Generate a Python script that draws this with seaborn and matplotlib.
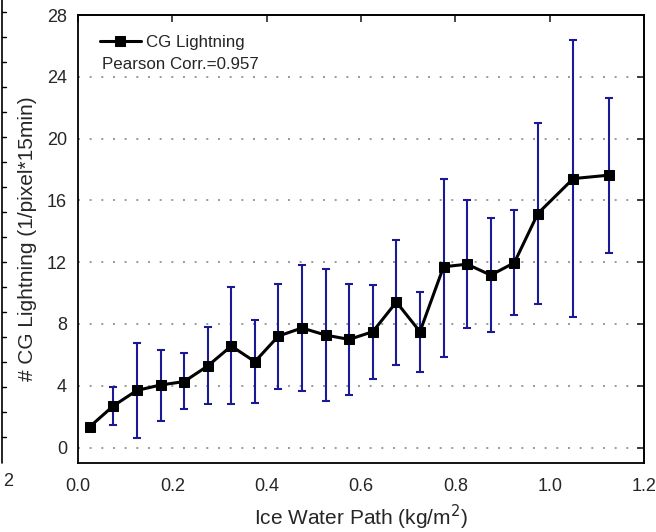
import numpy as np
import pandas as pd
import seaborn as sns
import matplotlib.pyplot as plt

iwp = [0.025, 0.075, 0.125, 0.175, 0.225, 0.275, 0.325, 0.375, 0.425, 0.475, 0.525,
       0.575, 0.625, 0.675, 0.725, 0.775, 0.825, 0.875, 0.925, 0.975, 1.05, 1.125]
cg = [1.35, 2.7, 3.7, 4.05, 4.27, 5.28, 6.57, 5.56, 7.22, 7.74, 7.28,
      7.0, 7.5, 9.42, 7.5, 11.7, 11.87, 11.16, 11.96, 15.15, 17.41, 17.63]
err_hi = [1.55, 3.94, 6.75, 6.32, 6.1, 7.78, 10.37, 8.23, 10.56, 11.79, 11.53,
          10.58, 10.52, 13.42, 10.04, 17.38, 16.0, 14.83, 15.35, 21.0, 26.35, 22.65]
err_lo = [1.1, 1.49, 0.65, 1.75, 2.5, 2.8, 2.8, 2.89, 3.79, 3.64, 3.0,
          3.43, 4.46, 5.37, 4.89, 5.88, 7.76, 7.46, 8.56, 9.27, 8.47, 12.6]

df = pd.DataFrame({"iwp": iwp, "cg": cg})

sns.set_style("white")
plt.rcParams['font.family'] = ['Liberation Sans', 'DejaVu Sans']

fig = plt.figure(figsize=(6.56, 5.32), dpi=100)
ax = fig.add_axes([78/656, 1-463/532, (644-78)/656, (463-15)/532])

# dotted grid
for yv in range(0, 28, 4):
    ax.axhline(yv, color="#999999", lw=1.4, ls=(0, (1, 5)), zorder=0)

lo = np.array(cg) - np.array(err_lo)
hi = np.array(err_hi) - np.array(cg)
ax.errorbar(iwp, cg, yerr=[lo, hi], fmt="none", ecolor="#1a1a96",
            elinewidth=1.5, capsize=3.2, capthick=1.5, zorder=2)
sns.lineplot(data=df, x="iwp", y="cg", ax=ax, color="black", lw=2.2,
             marker="s", markersize=7.3, markeredgecolor="black",
             label="CG Lightning", zorder=3)

ax.set_xlim(0, 1.2)
ax.set_ylim(-1, 28)
ax.set_xticks(np.arange(0, 1.21, 0.2))
ax.set_xticklabels([f"{v:.1f}" for v in np.arange(0, 1.21, 0.2)])
ax.set_yticks(range(0, 29, 4))
ax.tick_params(axis="both", labelsize=13, length=5, width=1.2, color="black", direction="out")
ax.tick_params(axis="x", pad=6)
ax.tick_params(axis="y", pad=3)
axt = ax.secondary_xaxis("top")
axt.set_xticks(np.arange(0, 1.21, 0.2))
axt.tick_params(direction="in", length=5, width=1.2, labeltop=False)
axr = ax.secondary_yaxis("right")
axr.set_yticks(range(0, 29, 4))
axr.tick_params(direction="in", length=5, width=1.2, labelright=False)
for s in ax.spines.values():
    s.set_linewidth(1.3)
    s.set_color("black")
for a in (axt, axr):
    for s in a.spines.values():
        s.set_linewidth(1.3)

ax.set_xlabel("Ice Water Path (kg/m$^2$)", fontsize=15)
ax.xaxis.set_label_coords(0.5, -0.088)
ax.set_ylabel("# CG Lightning (1/pixel*15min)", fontsize=15, labelpad=7)

leg = ax.legend(loc="upper left", frameon=False, fontsize=12.2, handlelength=2.4,
                handletextpad=0.3, borderpad=0, borderaxespad=0,
                bbox_to_anchor=(0.039, 0.956))
ax.text(0.042, 0.89, "Pearson Corr.=0.957", transform=ax.transAxes, fontsize=12.2,
        va="center", ha="left")

# sliver of the neighbouring panel at the left edge
fig.add_artist(plt.Line2D([2/656, 2/656], [1-463/532, 1.0], color="black", lw=1.2))
for yp in np.linspace(12, 437, 18):
    fig.add_artist(plt.Line2D([2/656, 6/656], [1-yp/532, 1-yp/532], color="black", lw=1))
fig.text(3/656, 1-481/532, "2", fontsize=13, ha="left", va="center")

fig.savefig("out.png", dpi=100)
